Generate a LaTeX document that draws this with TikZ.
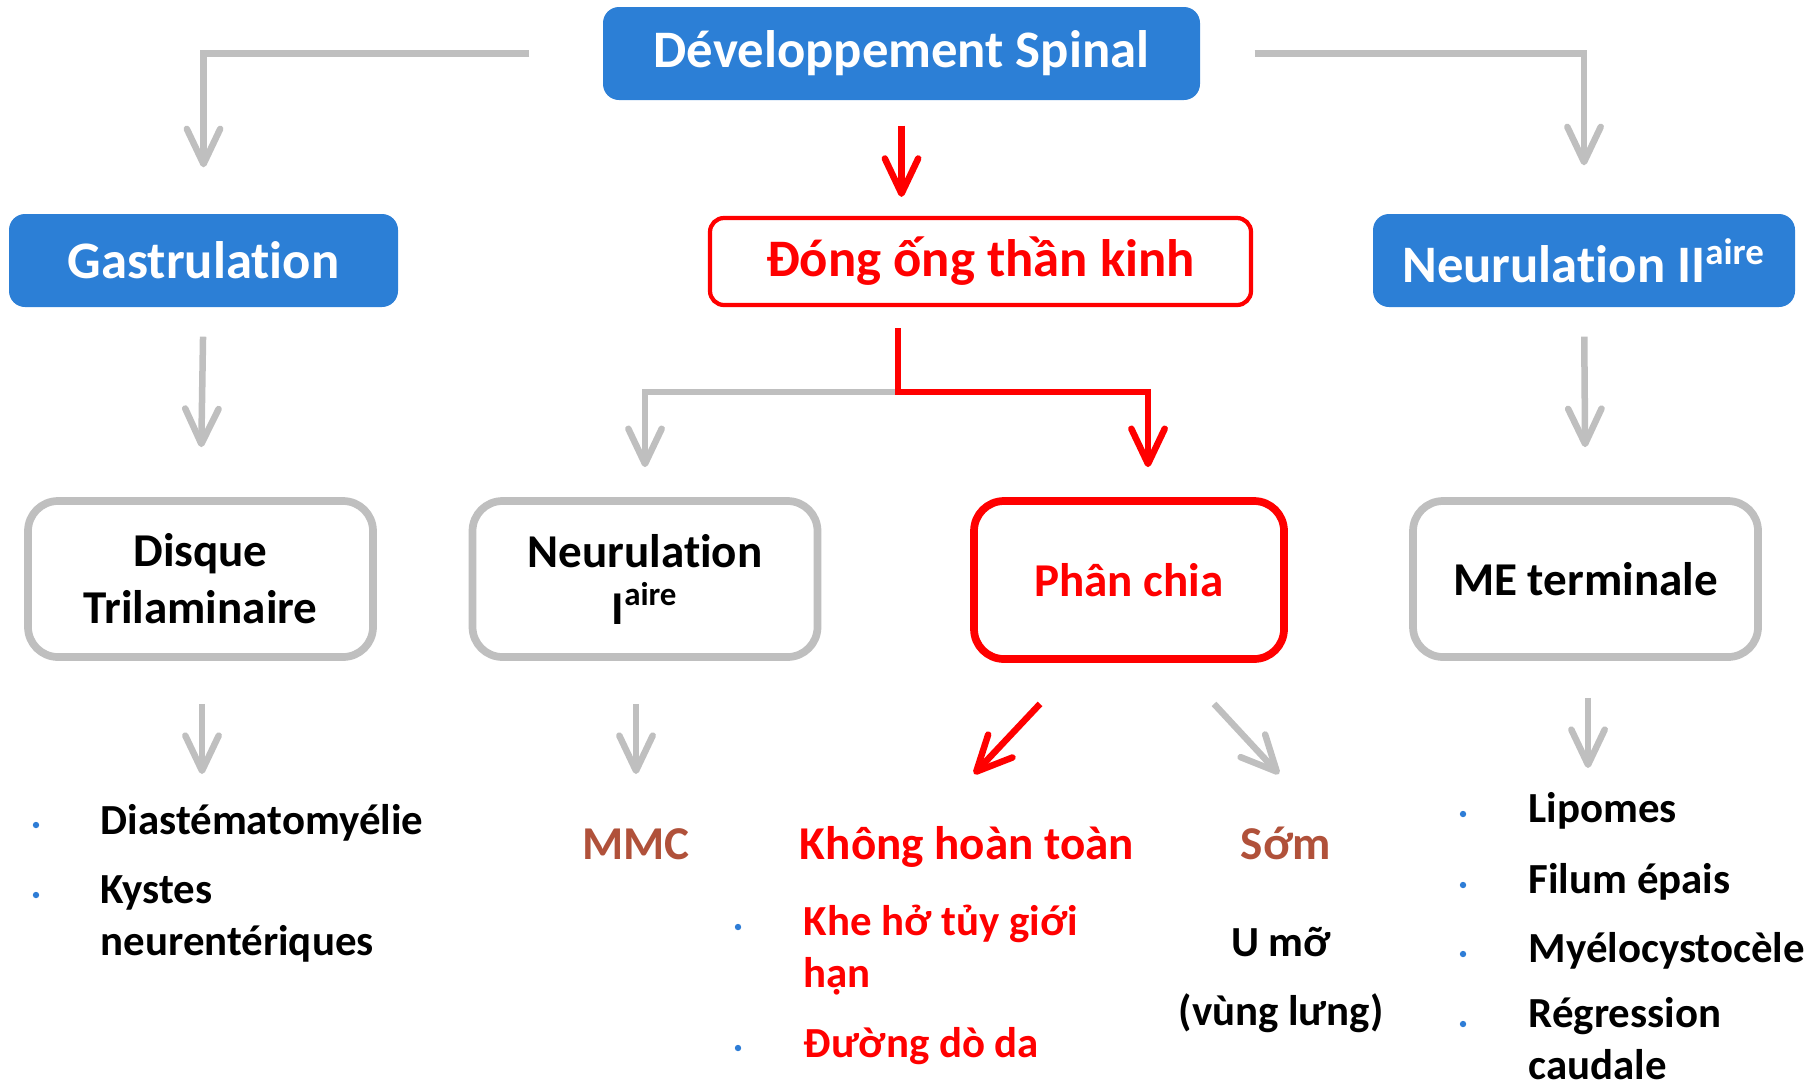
\documentclass[tikz,border=0pt]{standalone}
\usepackage{fontspec}
\setmainfont{Carlito}[Ligatures=NoCommon]
\usetikzlibrary{arrows.meta}
\definecolor{boxblue}{RGB}{44,127,214}
\definecolor{linegray}{RGB}{191,191,191}
\definecolor{rustred}{RGB}{176,81,58}
\definecolor{dotblue}{RGB}{46,125,214}

\begin{document}
\begin{tikzpicture}[x=0.1mm, y=-0.1mm,
  bluebox/.style={rectangle, rounded corners=1.6mm, fill=boxblue, text=white,
    font=\fontsize{15pt}{18pt}\selectfont\bfseries, minimum height=9.3mm, inner sep=0pt},
  redbox/.style={rectangle, rounded corners=1.4mm, draw=red, line width=1.2pt, fill=white, text=red,
    font=\fontsize{15pt}{18pt}\selectfont\bfseries, minimum height=8.7mm, inner sep=0pt},
  stagebox/.style={rectangle, rounded corners=3mm, draw=linegray, line width=2.2pt, align=center,
    font=\fontsize{13.4pt}{16.2pt}\selectfont\bfseries, minimum width=34.5mm, minimum height=15.6mm, inner sep=0pt},
  grayarr/.style={draw=linegray, line width=1.85pt, -{Straight Barb[length=10pt,width=9.5pt,round]}},
  redarr/.style={draw=red, line width=1.85pt, -{Straight Barb[length=10pt,width=9.5pt,round]}},
  item/.style={anchor=base west, align=left, inner sep=0pt,
    font=\fontsize{12.2pt}{14.8pt}\selectfont\bfseries},
  kind/.style={anchor=base, inner sep=0pt, font=\fontsize{13.4pt}{16.2pt}\selectfont\bfseries}]
  \useasboundingbox (0,0) rectangle (1818,1087);

  % les boîtes du haut
  \node[bluebox, minimum width=59.7mm] (dev) at (901.5,53.5) {Développement Spinal};
  \node[bluebox, minimum width=38.9mm] (gas) at (203.5,260.5) {Gastrulation};
  \node[redbox, minimum width=54.1mm] (dong) at (980.5,261.5) {Đóng ống thần kinh};
  \node[bluebox, minimum width=42.2mm] (neur2) at (1584,260.5) {Neurulation II\textsuperscript{aire}};

  % les étapes
  \node[stagebox] (disque) at (200.5,579) {Disque\\Trilaminaire};
  \node[stagebox] (neur1) at (645,579) {Neurulation\\I\textsuperscript{aire}};
  \node[stagebox, draw=red, text=red, minimum width=31mm, minimum height=15.8mm] (phan) at (1129,580) {Phân chia};
  \node[stagebox] (me) at (1585.5,579) {ME terminale};

  % flèches du haut
  \draw[grayarr, shorten <=7.3mm, shorten >=4.6mm] (dev.west) -| (gas.north);
  \draw[grayarr, shorten <=5.4mm, shorten >=4.8mm] (dev.east) -| (neur2.north);
  \draw[redarr, shorten <=2.5mm, shorten >=1.9mm] (dev.south) -- (dev.south |- dong.north);
  \draw[grayarr, shorten <=2.9mm, shorten >=5mm] (gas.south) -- (disque.north);
  \draw[grayarr, shorten <=2.9mm, shorten >=5mm] (neur2.south) -- (me.north);

  \coordinate (split) at (898,392);
  \draw[grayarr, shorten >=3mm] (split) -| (neur1.north);
  \draw[redarr, shorten <=2.1mm, shorten >=3mm] (split |- dong.south) -- (split) -| ([xshift=1.9mm]phan.north);

  % pointes des flèches du bas
  \coordinate (tipDia) at (202,774);
  \coordinate (tipMMC) at (636,774);
  \coordinate (tipKho) at (974,774);
  \coordinate (tipSom) at (1279,774);
  \coordinate (tipLip) at (1588,768);

  \draw[grayarr, shorten <=4.3mm] (tipDia |- disque.south) -- (tipDia);
  \draw[grayarr, shorten <=4.3mm] (tipMMC |- neur1.south) -- (tipMMC);
  \draw[redarr] ([xshift=-8.9mm,yshift=-4.1mm]phan.south) -- (tipKho);
  \draw[grayarr] ([xshift=8.5mm,yshift=-4.1mm]phan.south) -- (tipSom);
  \draw[grayarr, shorten <=3.7mm] (tipLip |- me.south) -- (tipLip);

  % puces
  \foreach \x/\y in {36/825, 36/895, 738/927, 738/1048, 1463/814, 1463/885, 1463/954, 1463/1024} {
    \fill[dotblue] (\x,\y) circle (0.32mm);
  }

  % textes du bas (base = dernière ligne)
  \node[item] (diast) at (100,834) {Diastématomyélie};
  \node[item] (kyst) at (100,955) {Kystes\\neurentériques};
  \node[kind, text=rustred] (mmc) at (636,859) {MMC};
  \node[kind, text=red] (khong) at (967,859) {Không hoàn toàn};
  \node[kind, text=rustred] (som) at (1286,859) {Sớm};
  \node[item, text=red] (khe) at (803,987) {Khe hở tủy giới\\hạn};
  \node[item, text=red] (duong) at (803,1057) {Đường dò da};
  \node[item, anchor=base, align=center] (umo) at (1281,1025) {U mỡ\\[1.7mm](vùng lưng)};
  \node[item] (lip) at (1528,822) {Lipomes};
  \node[item] (fil) at (1528,893) {Filum épais};
  \node[item] (myel) at (1528,962) {Myélocystocèle};
  \node[item] (regr) at (1528,1079) {Régression\\caudale};
\end{tikzpicture}
\end{document}
